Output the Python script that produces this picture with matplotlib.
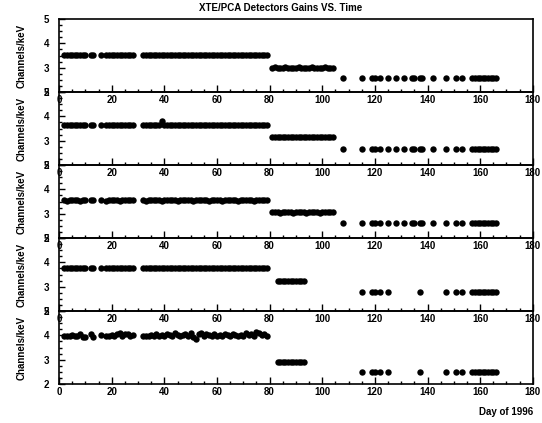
import matplotlib
matplotlib.use('Agg')
import matplotlib.pyplot as plt
from matplotlib.ticker import MultipleLocator

plt.rcParams['font.family'] = ['Liberation Sans', 'DejaVu Sans']
plt.rcParams['font.weight'] = 'bold'

# observation days (day of 1996)
days_early = [2, 3, 4, 5, 6, 7, 8, 9, 10, 12, 13, 16, 18, 19, 20, 21, 22, 23,
              24, 25, 26, 27, 28, 32, 33, 34, 35, 36, 37, 38, 39, 40, 41, 42,
              43, 44, 45, 46, 47, 48, 49, 50, 51, 52, 53, 54, 55, 56, 57, 58,
              59, 60, 61, 62, 63, 64, 65, 66, 67, 68, 69, 70, 71, 72, 73, 74,
              75, 76, 77, 78, 79]
days_mid = [81, 82, 83, 84, 85, 86, 87, 88, 89, 90, 91, 92, 93, 94, 95, 96,
            97, 98, 99, 100, 101, 102, 103, 104]
days_late = [108, 115, 119, 120, 122, 125, 128, 131, 134, 135, 137, 138, 142,
             147, 151, 153, 157, 158, 159, 160, 161, 162, 163, 164, 165, 166]
days_mid_b = [83, 84, 85, 86, 87, 88, 89, 90, 91, 92, 93]
days_late_b = [115, 119, 120, 122, 125, 137, 147, 151, 153, 157, 158, 159,
               160, 161, 162, 163, 164, 165, 166]

# PCU 0
pcu0_early = [3.52, 3.51, 3.52, 3.53, 3.52, 3.52, 3.51, 3.52, 3.52, 3.53,
              3.52, 3.52, 3.51, 3.52, 3.52, 3.53, 3.52, 3.51, 3.52, 3.52,
              3.52, 3.53, 3.52, 3.52, 3.51, 3.52, 3.52, 3.53, 3.52, 3.52,
              3.51, 3.52, 3.52, 3.52, 3.53, 3.52, 3.51, 3.52, 3.52, 3.53,
              3.52, 3.52, 3.51, 3.52, 3.53, 3.52, 3.52, 3.52, 3.51, 3.52,
              3.53, 3.52, 3.52, 3.51, 3.52, 3.52, 3.53, 3.52, 3.52, 3.51,
              3.52, 3.52, 3.53, 3.52, 3.52, 3.51, 3.52, 3.52, 3.53, 3.52,
              3.52]
pcu0_mid = [3.00, 3.01, 3.00, 2.99, 3.00, 3.01, 3.00, 3.00, 2.99, 3.00,
            3.01, 3.00, 3.00, 2.99, 3.00, 3.01, 3.00, 3.00, 2.99, 3.00,
            3.01, 3.00, 3.00, 3.00]
pcu0_late = [2.57, 2.57, 2.58, 2.57, 2.57, 2.56, 2.57, 2.57, 2.58, 2.57,
             2.57, 2.56, 2.57, 2.57, 2.57, 2.58, 2.57, 2.56, 2.57, 2.57,
             2.58, 2.57, 2.57, 2.56, 2.57, 2.57]

# PCU 1
pcu1_early = [3.65, 3.64, 3.65, 3.66, 3.65, 3.65, 3.64, 3.65, 3.65, 3.66,
              3.65, 3.65, 3.64, 3.65, 3.65, 3.66, 3.65, 3.64, 3.65, 3.65,
              3.65, 3.66, 3.65, 3.65, 3.64, 3.65, 3.65, 3.66, 3.65, 3.65,
              3.80, 3.65, 3.65, 3.65, 3.66, 3.65, 3.64, 3.65, 3.65, 3.66,
              3.65, 3.65, 3.64, 3.65, 3.66, 3.65, 3.65, 3.65, 3.64, 3.65,
              3.66, 3.65, 3.65, 3.64, 3.65, 3.65, 3.66, 3.65, 3.65, 3.64,
              3.65, 3.65, 3.66, 3.65, 3.65, 3.64, 3.65, 3.65, 3.66, 3.65,
              3.65]
pcu1_mid = [3.15, 3.16, 3.15, 3.14, 3.15, 3.16, 3.15, 3.15, 3.14, 3.15,
            3.16, 3.15, 3.15, 3.14, 3.15, 3.16, 3.15, 3.15, 3.14, 3.15,
            3.16, 3.15, 3.15, 3.15]
pcu1_late = [2.67, 2.67, 2.68, 2.67, 2.67, 2.66, 2.67, 2.67, 2.68, 2.67,
             2.67, 2.66, 2.67, 2.67, 2.67, 2.68, 2.67, 2.66, 2.67, 2.67,
             2.68, 2.67, 2.67, 2.66, 2.67, 2.67]

# PCU 2
pcu2_early = [3.55, 3.54, 3.55, 3.56, 3.55, 3.55, 3.54, 3.55, 3.55, 3.56,
              3.55, 3.55, 3.54, 3.55, 3.55, 3.56, 3.55, 3.54, 3.55, 3.55,
              3.55, 3.56, 3.55, 3.55, 3.54, 3.55, 3.55, 3.56, 3.55, 3.55,
              3.54, 3.55, 3.55, 3.55, 3.56, 3.55, 3.54, 3.55, 3.55, 3.56,
              3.55, 3.55, 3.54, 3.55, 3.56, 3.55, 3.55, 3.55, 3.54, 3.55,
              3.56, 3.55, 3.55, 3.54, 3.55, 3.55, 3.56, 3.55, 3.55, 3.54,
              3.55, 3.55, 3.56, 3.55, 3.55, 3.54, 3.55, 3.55, 3.56, 3.55,
              3.55]
pcu2_mid = [3.06, 3.06, 3.06, 3.05, 3.06, 3.06, 3.06, 3.06, 3.05, 3.06,
            3.06, 3.06, 3.06, 3.05, 3.06, 3.06, 3.06, 3.06, 3.05, 3.06,
            3.06, 3.06, 3.06, 3.06]
pcu2_late = [2.63, 2.63, 2.63, 2.63, 2.63, 2.62, 2.63, 2.63, 2.63, 2.63,
             2.63, 2.62, 2.63, 2.63, 2.63, 2.63, 2.63, 2.62, 2.63, 2.63,
             2.63, 2.63, 2.63, 2.62, 2.63, 2.63]

# PCU 3
pcu3_early = [3.77, 3.76, 3.77, 3.78, 3.77, 3.77, 3.76, 3.77, 3.77, 3.78,
              3.77, 3.77, 3.76, 3.77, 3.77, 3.78, 3.77, 3.76, 3.77, 3.77,
              3.77, 3.78, 3.77, 3.77, 3.76, 3.77, 3.77, 3.78, 3.77, 3.77,
              3.76, 3.77, 3.77, 3.77, 3.78, 3.77, 3.76, 3.77, 3.77, 3.78,
              3.77, 3.77, 3.76, 3.77, 3.78, 3.77, 3.77, 3.77, 3.76, 3.77,
              3.78, 3.77, 3.77, 3.76, 3.77, 3.77, 3.78, 3.77, 3.77, 3.76,
              3.77, 3.77, 3.78, 3.77, 3.77, 3.76, 3.77, 3.77, 3.78, 3.77,
              3.77]
pcu3_mid = [3.23, 3.24, 3.23, 3.22, 3.23, 3.24, 3.23, 3.23, 3.22, 3.23,
            3.24]
pcu3_late = [2.78, 2.78, 2.79, 2.78, 2.78, 2.77, 2.78, 2.78, 2.79, 2.78,
             2.78, 2.77, 2.78, 2.78, 2.78, 2.79, 2.78, 2.77, 2.78]

# PCU 4
pcu4_early = [3.96, 3.97, 3.99, 4.01, 3.97, 3.98, 4.04, 3.95, 3.93, 4.05,
              3.95, 4.00, 3.96, 3.98, 4.03, 3.97, 4.07, 4.10, 3.98, 4.04,
              4.06, 3.97, 4.01, 3.97, 3.99, 3.96, 4.02, 3.98, 4.05, 3.99,
              4.03, 3.96, 4.04, 4.00, 3.97, 4.08, 4.02, 3.98, 4.03, 4.06,
              3.99, 4.08, 3.93, 3.87, 4.05, 4.09, 3.98, 4.06, 4.02, 3.97,
              4.04, 3.99, 4.01, 3.96, 4.05, 4.00, 3.98, 4.07, 4.02, 3.97,
              4.03, 3.99, 4.08, 4.01, 4.05, 3.98, 4.12, 4.09, 4.03, 4.06,
              3.99]
pcu4_mid = [2.90, 2.91, 2.90, 2.89, 2.90, 2.91, 2.90, 2.90, 2.89, 2.90,
            2.91]
pcu4_late = [2.50, 2.50, 2.51, 2.50, 2.50, 2.49, 2.50, 2.50, 2.51, 2.50,
             2.50, 2.49, 2.50, 2.50, 2.50, 2.51, 2.50, 2.49, 2.50]

panels = [
    (days_early + days_mid + days_late, pcu0_early + pcu0_mid + pcu0_late),
    (days_early + days_mid + days_late, pcu1_early + pcu1_mid + pcu1_late),
    (days_early + days_mid + days_late, pcu2_early + pcu2_mid + pcu2_late),
    (days_early + days_mid_b + days_late_b, pcu3_early + pcu3_mid + pcu3_late),
    (days_early + days_mid_b + days_late_b, pcu4_early + pcu4_mid + pcu4_late),
]

fig, axes = plt.subplots(5, 1, figsize=(5.42, 4.23), dpi=100)
fig.subplots_adjust(left=0.109, right=0.983, top=0.955, bottom=0.092,
                    hspace=0)

for ax, (d, g) in zip(axes, panels):
    # transparent panels so the day labels of the panel above stay visible
    ax.patch.set_alpha(0)
    ax.plot(d, g, 'o', color='black', ms=4.6, mew=0)
    ax.set_xlim(0, 180)
    ax.set_ylim(2, 5)
    ax.xaxis.set_major_locator(MultipleLocator(20))
    ax.xaxis.set_minor_locator(MultipleLocator(5))
    ax.yaxis.set_major_locator(MultipleLocator(1))
    ax.yaxis.set_minor_locator(MultipleLocator(0.25))
    ax.tick_params(which='both', direction='in', top=False, right=False,
                   labelsize=7, width=1)
    ax.tick_params(axis='x', which='major', length=5, pad=2)
    ax.tick_params(axis='x', which='minor', length=2.5)
    ax.tick_params(axis='y', which='major', length=4, pad=7)
    ax.tick_params(axis='y', which='minor', length=2.5)
    for s in ax.spines.values():
        s.set_linewidth(1.2)
    ax.set_ylabel('Channels/keV', fontsize=7, fontweight='bold')
    ax.yaxis.set_label_coords(-0.068, 0.5)

fig.text(0.517, 1 - 8 / 423, 'XTE/PCA Detectors Gains VS. Time',
         ha='center', va='center', fontsize=7, fontweight='bold')
fig.text(533 / 542, 1 - 412 / 423, 'Day of 1996',
         ha='right', va='center', fontsize=7, fontweight='bold')

fig.savefig('out.png', dpi=100)
